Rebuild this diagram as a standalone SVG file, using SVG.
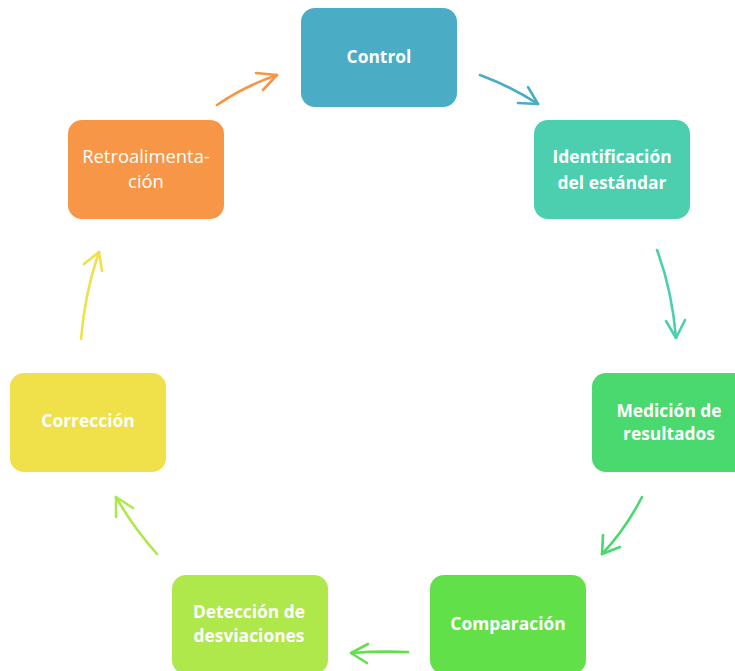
<svg xmlns="http://www.w3.org/2000/svg" width="735" height="671" viewBox="0 0 735 671">
<style>
.box{stroke:none}
.t{font-family:"Open Sans","Liberation Sans",sans-serif;font-size:17.4px;font-weight:bold;fill:#ffffff;text-anchor:middle}
.tr{font-family:"Open Sans","Liberation Sans",sans-serif;font-size:18.4px;font-weight:normal;fill:#ffffff;text-anchor:middle}
.c{fill:none;stroke-width:2.6;stroke-linecap:round;stroke-linejoin:round}
</style>
<rect width="735" height="671" fill="#ffffff"/>
<g id="connectors">
  <g stroke="#F79646" class="c"><path class="c" d="M217,105 Q245,86 277,75"/><path class="c" d="M256,73 L277,75 L263,90"/></g>
  <g stroke="#4BACC6" class="c"><path class="c" d="M480,75 Q512,87 538,104"/><path class="c" d="M528,87 L538,104 L518,103"/></g>
  <g stroke="#4BCFAE" class="c"><path class="c" d="M657,250 Q672,290 676,338"/><path class="c" d="M666,321 L676,338 L685,320"/></g>
  <g stroke="#4AD96E" class="c"><path class="c" d="M642,497 Q625,530 602,554"/><path class="c" d="M603,535 L602,554 L620,547"/></g>
  <g stroke="#62E04A" class="c"><path class="c" d="M408,652 Q378,651 351,653"/><path class="c" d="M368,644 L351,653 L367,663"/></g>
  <g stroke="#AEE84A" class="c"><path class="c" d="M157,554 Q133,527 116,497"/><path class="c" d="M116,517 L116,497 L133,508"/></g>
  <g stroke="#F0E04A" class="c"><path class="c" d="M81,339 Q85,292 99,252"/><path class="c" d="M84,264 L99,252 L102,271"/></g>
</g>
<g id="control"><rect class="box" x="301" y="8" width="156" height="99" rx="14" fill="#4BACC6"/><text class="t" x="379" y="63">Control</text></g>
<g id="identificacion"><rect class="box" x="534" y="120" width="156" height="99" rx="14" fill="#4BCFAE"/><text class="t" x="612" y="163">Identificación</text><text class="t" x="612" y="189">del estándar</text></g>
<g id="medicion"><rect class="box" x="592" y="373" width="156" height="99" rx="14" fill="#4AD96E"/><text class="t" x="669" y="417">Medición de</text><text class="t" x="669" y="440">resultados</text></g>
<g id="comparacion"><rect class="box" x="430" y="575" width="156" height="99" rx="14" fill="#62E04A"/><text class="t" x="508" y="630">Comparación</text></g>
<g id="deteccion"><rect class="box" x="172" y="575" width="156" height="99" rx="14" fill="#AEE84A"/><text class="t" x="249" y="618">Detección de</text><text class="t" x="249" y="642">desviaciones</text></g>
<g id="correccion"><rect class="box" x="10" y="373" width="156" height="99" rx="14" fill="#F0E04A"/><text class="t" x="88" y="427">Corrección</text></g>
<g id="retroalimentacion"><rect class="box" x="68" y="120" width="156" height="99" rx="14" fill="#F79646"/><text class="tr" x="146" y="163">Retroalimenta-</text><text class="tr" x="146" y="188">ción</text></g>
</svg>
